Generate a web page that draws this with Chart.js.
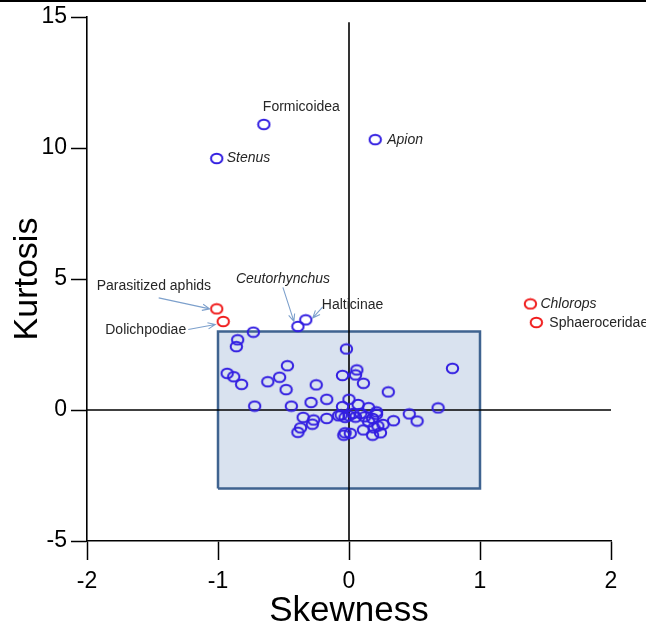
<!DOCTYPE html>
<html>
<head>
<meta charset="utf-8">
<script src="https://cdn.jsdelivr.net/npm/chart.js@4.4.1/dist/chart.umd.min.js"></script>
<style>
  html, body { margin: 0; padding: 0; background: #fff; }
  #wrap { position: relative; width: 646px; height: 629px; }
  #topRule { position: absolute; left: 0; top: 0; width: 646px; height: 2px; background: #000; }
  canvas { display: block; }
</style>
</head>
<body>
<div id="wrap">
  <canvas id="chart" width="646" height="629"></canvas>
  <div id="topRule"></div>
</div>
<script>
// Skewness / kurtosis of the unnamed taxa (blue circles)
const clusterSkew = [
  -0.73, -0.85, -0.86, -0.02, -0.93, -0.88, -0.82, -0.47, -0.53, -0.62,
  -0.48, -0.25, -0.72, -0.44, -0.29, -0.17, -0.05,  0.06,  0.05,  0.11,
   0.30,  0.79,  0.68,  0.46,  0.52,  0.00,  0.07,  0.15,  0.21, -0.05,
  -0.08, -0.03,  0.00,  0.05,  0.12,  0.18,  0.21,  0.34,  0.15,  0.26,
   0.11,  0.19,  0.24,  0.18,  0.01, -0.04, -0.03, -0.35, -0.27, -0.28,
  -0.17, -0.37, -0.39, -0.06,  0.03,  0.09,  0.22
];
const clusterKurt = [
   2.97,  2.68,  2.42,  2.33,  1.40,  1.27,  0.98,  1.69,  1.25,  1.08,
   0.78,  0.96,  0.15,  0.15,  0.29,  0.41,  1.32,  1.53,  1.34,  1.02,
   0.69,  1.59,  0.08, -0.15, -0.42,  0.41,  0.21,  0.09, -0.07,  0.13,
  -0.22, -0.28, -0.22, -0.27, -0.26, -0.32, -0.16, -0.41, -0.45, -0.55,
  -0.76, -0.68, -0.87, -0.96, -0.89, -0.96, -0.87, -0.28, -0.38, -0.54,
  -0.32, -0.68, -0.85, -0.19, -0.13, -0.13, -0.61
];

// Named taxa drawn in blue
const blueTaxa = ['Formicoidea', 'Stenus', 'Apion', 'Ceutorhynchus', 'Halticinae'];
const blueSkew = [-0.65, -1.01, 0.20, -0.39, -0.33];
const blueKurt = [10.90, 9.60, 10.32, 3.19, 3.44];

// Named taxa drawn in red
const redTaxa = ['Parasitized aphids', 'Dolichpodiae', 'Chlorops', 'Sphaeroceridae'];
const redSkew = [-1.01, -0.96, 1.385, 1.43];
const redKurt = [3.86, 3.38, 4.05, 3.34];

// Reference box and axis ticks
const boxSkew = [-1, 1];
const boxKurt = [-3, 3];
const xTicks = [-2, -1, 0, 1, 2];
const yTicks = [-5, 0, 5, 10, 15];

const FONT = "'Liberation Sans', Arial, sans-serif";
const BLUE = 'rgb(50,30,225)';
const RED = 'rgb(240,28,28)';

// Open elliptical marker used for every taxon
function ellipseMarker(color) {
  const c = document.createElement('canvas');
  c.width = 15; c.height = 13;
  const g = c.getContext('2d');
  g.strokeStyle = color;
  g.lineWidth = 2;
  g.beginPath();
  g.ellipse(7.5, 6.5, 5.7, 4.8, 0, 0, Math.PI * 2);
  g.stroke();
  return c;
}

const toPoints = (xs, ys) => xs.map((x, i) => ({ x: x, y: ys[i] }));

// Annotation layout: text offset from the point (px) and optional arrow (px offsets)
const labelLayout = {
  'Formicoidea':        { italic: false, dx: -1,   dy: -17 },
  'Stenus':             { italic: true,  dx: 10,   dy: 0 },
  'Apion':              { italic: true,  dx: 12,   dy: 0 },
  'Ceutorhynchus':      { italic: true,  dx: -62,  dy: -47, arrow: [-15, -39, -4, -5] },
  'Halticinae':         { italic: false, dx: 16,   dy: -15, arrow: [17, -13, 7, -2] },
  'Parasitized aphids': { italic: false, dx: -120, dy: -23, arrow: [-58, -11, -7, 0] },
  'Dolichpodiae':       { italic: false, dx: -118, dy: 9,   arrow: [-35, 8, -8, 3] },
  'Chlorops':           { italic: true,  dx: 10,   dy: 0 },
  'Sphaeroceridae':     { italic: false, dx: 13,   dy: 1 }
};

const taxonLabels = {
  id: 'taxonLabels',
  afterDatasetsDraw(chart) {
    const { ctx, scales: { x, y } } = chart;
    const named = [];
    blueTaxa.forEach((n, i) => named.push([n, blueSkew[i], blueKurt[i]]));
    redTaxa.forEach((n, i) => named.push([n, redSkew[i], redKurt[i]]));
    ctx.save();
    named.forEach(([name, sx, ky]) => {
      const lay = labelLayout[name];
      const px = x.getPixelForValue(sx);
      const py = y.getPixelForValue(ky);
      ctx.font = (lay.italic ? 'italic ' : '') + '14px ' + FONT;
      ctx.fillStyle = '#262626';
      ctx.textAlign = 'left';
      ctx.textBaseline = 'middle';
      ctx.fillText(name, px + lay.dx, py + lay.dy);
      if (lay.arrow) {
        const [ax, ay, bx, by] = lay.arrow;
        const x0 = px + ax, y0 = py + ay, x1 = px + bx, y1 = py + by;
        const ang = Math.atan2(y1 - y0, x1 - x0);
        ctx.strokeStyle = '#7da0cc';
        ctx.lineWidth = 1.1;
        ctx.beginPath();
        ctx.moveTo(x0, y0);
        ctx.lineTo(x1, y1);
        ctx.moveTo(x1 - 8 * Math.cos(ang - 0.4), y1 - 8 * Math.sin(ang - 0.4));
        ctx.lineTo(x1, y1);
        ctx.lineTo(x1 - 8 * Math.cos(ang + 0.4), y1 - 8 * Math.sin(ang + 0.4));
        ctx.stroke();
      }
    });
    ctx.restore();
  }
};

const boxOutline = [
  { x: boxSkew[0], y: boxKurt[0] }, { x: boxSkew[0], y: boxKurt[1] },
  { x: boxSkew[1], y: boxKurt[1] }, { x: boxSkew[1], y: boxKurt[0] },
  { x: boxSkew[0], y: boxKurt[0] }
];

new Chart(document.getElementById('chart'), {
  type: 'scatter',
  data: {
    datasets: [
      {
        label: 'box', data: boxOutline, showLine: true, fill: 'shape',
        backgroundColor: '#d9e2ef', borderColor: '#3f6390', borderWidth: 2.5,
        borderJoinStyle: 'miter', pointRadius: 0, tension: 0, order: 4
      },
      {
        label: 'zeroX', data: [{ x: xTicks[0], y: 0 }, { x: xTicks[xTicks.length - 1], y: 0 }],
        showLine: true, borderColor: '#000', borderWidth: 1.6, pointRadius: 0, order: 3
      },
      {
        label: 'zeroY', data: [{ x: 0, y: yTicks[0] }, { x: 0, y: 14.8 }],
        showLine: true, borderColor: '#000', borderWidth: 1.6, pointRadius: 0, order: 3
      },
      {
        label: 'taxa', data: toPoints(clusterSkew, clusterKurt),
        pointStyle: ellipseMarker(BLUE), order: 1
      },
      {
        label: 'named', data: toPoints(blueSkew, blueKurt),
        pointStyle: ellipseMarker(BLUE), order: 1
      },
      {
        label: 'flagged', data: toPoints(redSkew, redKurt),
        pointStyle: ellipseMarker(RED), order: 1
      }
    ]
  },
  options: {
    responsive: false,
    animation: false,
    events: [],
    layout: { padding: { top: 17, right: 35, left: 0, bottom: 0 } },
    plugins: { legend: { display: false }, tooltip: { enabled: false } },
    scales: {
      x: {
        type: 'linear', min: xTicks[0], max: xTicks[xTicks.length - 1],
        afterBuildTicks: s => { s.ticks = xTicks.map(v => ({ value: v })); },
        afterFit: s => { s.height = 88; },
        grid: { drawOnChartArea: false, drawTicks: true, tickLength: 19, tickColor: '#000', tickWidth: 1.5 },
        border: { display: true, color: '#000', width: 1.6 },
        ticks: { color: '#000', font: { family: FONT, size: 23, lineHeight: 1 }, padding: 10, maxRotation: 0 },
        title: { display: true, text: 'Skewness', color: '#000',
                 font: { family: FONT, size: 35, lineHeight: 1 }, padding: { top: 0, bottom: 0 } }
      },
      y: {
        type: 'linear', min: yTicks[0], max: yTicks[yTicks.length - 1],
        afterBuildTicks: s => { s.ticks = yTicks.map(v => ({ value: v })); },
        afterFit: s => { s.width = 87; },
        grid: { drawOnChartArea: false, drawTicks: true, tickLength: 16, tickColor: '#000', tickWidth: 1.5 },
        border: { display: true, color: '#000', width: 1.6 },
        ticks: { color: '#000', font: { family: FONT, size: 23, lineHeight: 1 }, padding: 4 },
        title: { display: true, text: 'Kurtosis', color: '#000',
                 font: { family: FONT, size: 34, lineHeight: 1 }, padding: { top: 11, bottom: 0 } }
      }
    }
  },
  plugins: [taxonLabels]
});
</script>
</body>
</html>
